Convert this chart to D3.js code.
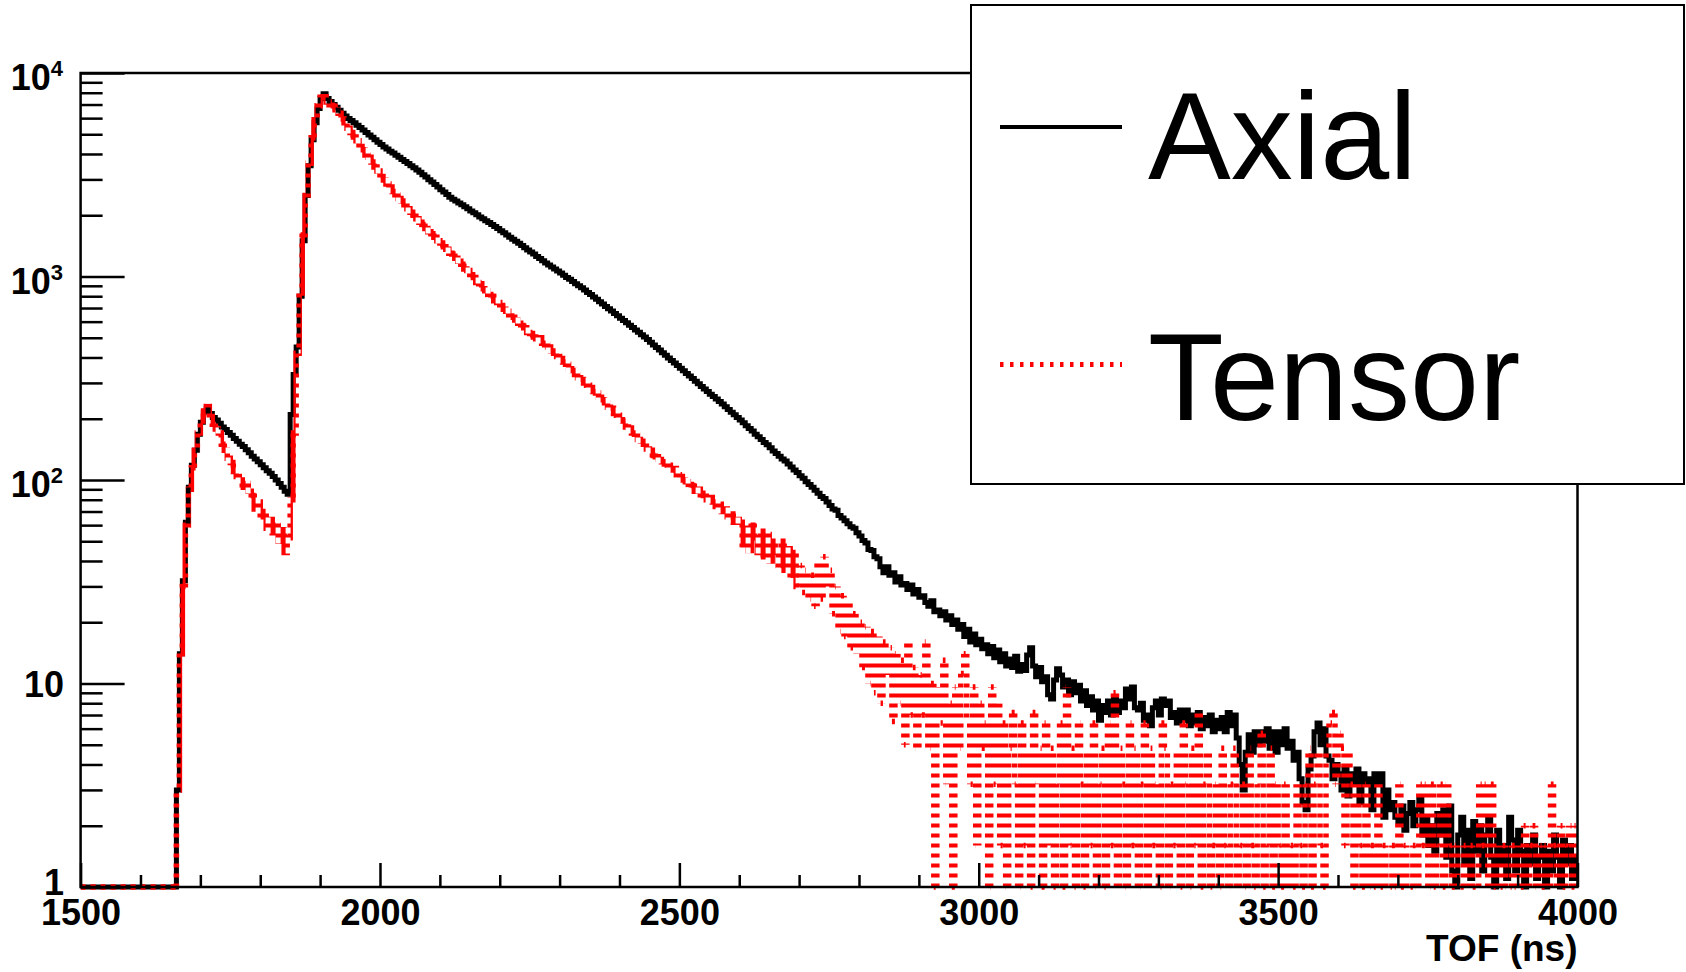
<!DOCTYPE html>
<html>
<head>
<meta charset="utf-8">
<script src="https://cdn.jsdelivr.net/npm/d3@7"></script>
<style>
  body { margin: 0; background: #fff; }
  svg { display: block; }
  text { font-family: "Liberation Sans", Arial, Helvetica, sans-serif; }
</style>
</head>
<body>
<div id="chart"></div>
<script>
// histogram binning: 5 ns bins from 1500 to 4000 ns
var binStart = 1500, binWidth = 5;

// Axial counts, one row per 100 ns
var axial = [
  0,0,0,0,0,0,0,0,0,0,0,0,0,0,0,0,0,0,0,0,
  0,0,0,0,0,0,0,0,0,0,0,0,3,14,32,62,92,118,140,168,
  192,215,225,212,203,197,190,182,177,171,166,160,155,150,146,141,136,131,127,123,
  119,115,111,108,104,100,96,92,88,85,210,330,450,800,1500,2500,3500,4700,5700,6700,
  7500,7900,7500,7250,7000,6780,6560,6350,6150,5980,5850,5690,5540,5390,5240,5100,4960,4830,4700,4570,
  4450,4330,4230,4130,4040,3940,3850,3760,3670,3590,3500,3420,3340,3250,3160,3080,2990,2910,2830,2750,
  2670,2600,2530,2450,2400,2350,2300,2250,2200,2150,2100,2060,2010,1960,1920,1880,1840,1800,1760,1720,
  1680,1640,1600,1560,1525,1490,1455,1420,1385,1350,1320,1290,1255,1225,1195,1165,1140,1115,1090,1065,
  1040,1015,990,968,945,922,900,880,858,835,815,793,772,752,733,713,695,676,658,641,
  624,608,592,576,561,546,532,518,504,490,475,461,448,435,422,410,398,387,376,365,
  354,344,334,324,315,306,297,288,280,272,264,257,250,243,236,229,222,215,209,203,
  197,191,185,179,174,168,163,158,153,149,144,139,135,131,127,124,120,116,112,109,
  105,102,98,95,92,89,86,83,81,78,75,72,71,67,65,63,61,59,58,55,
  53,50.5,49,45.5,45,42,41,37.5,35,37.5,34,35,31.5,33.5,30.5,31,29,30.5,27.5,29,
  26.5,27,25,24,25.5,22.5,23,21.5,22.5,20.5,21.5,19.5,20.5,18.5,19.5,17,18.5,16,17.5,15.5,
  16.5,14.8,15.5,14,15.2,13.4,14.6,12.8,14,12.2,13.2,12,13.6,11.5,12.4,11.6,13.8,15,12.2,10.8,
  12,10.2,10.8,8.8,8.4,10.4,11.8,11,9.6,10.4,8.8,10.2,9,9.8,8.2,9.2,7.8,8.6,7.4,8.2,
  6.6,7.8,7.2,8.2,7,8.6,7.2,8.2,7.6,9.4,8.4,9.6,7.6,7.4,8,6.6,7,6.2,7.6,8.2,
  7,8.4,7.8,8.2,6.8,7.2,6.4,7.4,6.6,7.4,6.2,7,6.4,7.2,6,6.8,6.2,7,5.8,6.6,
  6,6.8,5.8,7.2,6.2,7,5.4,4,3,4.6,5.6,4.6,5.8,5,5.8,5.2,6,4.8,5.8,4.6,
  5.8,5,6,4.8,5.2,4.2,4.6,3.4,2.6,2.4,3.8,4.4,5.8,6.4,5,6,4.4,4.2,3.4,4,
  3.6,3,3.8,2.8,3.6,3.2,3.8,2.6,3.6,3.2,3.4,2.4,3.6,3.2,3.6,2.2,3,2.4,2.6,2.2,
  2.1,2.5,1.9,2.3,2.6,2,2.4,2.7,1.8,2.2,1.6,2,1.5,2.3,1.8,2.4,1.4,2.5,1.2,0,
  1.8,2.2,1.3,1.9,1.1,2.1,1.5,2,1.2,1.8,2.2,1.4,0.9,1.9,1.3,1.6,1.1,2.2,1.7,1.2,
  1.9,1.5,0.8,1.6,1.3,1.8,1.1,1.4,1.6,0,1.5,1.2,1.8,1.4,0.9,1.7,1.3,1.6,1.1,1.4
];

// Tensor counts, one row per 100 ns
var tensor = [
  0,0,0,0,0,0,0,0,0,0,0,0,0,0,0,0,0,0,0,0,
  0,0,0,0,0,0,0,0,0,0,0,0,3,14,30,60,90,115,140,170,
  195,218,230,205,188,178,170,150,140,128,122,110,104,100,92,96,88,84,72,78,
  66,70,58,64,55,60,50,57,44,52,80,170,420,830,1600,2500,3600,4800,5900,6900,
  7600,7650,7200,6950,6900,6600,6350,5950,5700,5350,5100,4850,4650,4350,4200,3950,3850,3650,3450,3300,
  3100,2980,2850,2750,2620,2520,2420,2350,2250,2150,2070,2000,1920,1850,1800,1720,1660,1620,1560,1500,
  1460,1400,1360,1300,1290,1230,1190,1150,1090,1070,1020,990,935,920,870,850,815,800,760,745,
  720,690,675,640,630,612,590,575,560,530,525,505,495,500,470,462,450,430,420,405,
  395,380,370,352,345,330,318,312,300,292,285,272,268,255,248,240,228,225,212,208,
  198,195,182,180,170,168,158,155,150,142,140,132,130,126,123,120,118,112,114,106,
  104,100,98,95,94,88,90,84,86,80,82,78,74,76,70,72,66,68,62,64,
  62,48,58,45,60,52,44,56,42,54,40,50,44,38,50,36,46,34,44,30,
  38,28,36,26,34,24,40,26,42,30,36,22,30,18,27,17,25,15,22,14,
  20,12,19,10,18,9,17,8,16,11,15,6.5,14,8,13,5,16,7,12,4.8,
  11,7,16,4.8,10,0,9.6,6.4,13,3.2,8,0,9.6,4.8,11.2,14,6.4,3.2,9.6,1.6,
  8,4.8,6.4,0,9.6,3.2,8,1.6,6.4,0,4.8,7.2,3.2,0,6.4,1.6,4.8,0,7.2,3.2,
  4.8,0,6.4,1.6,4.8,0,3.2,6.4,0,9.6,1.6,4.8,0,6.4,3.2,0,4.8,1.6,6.4,0,
  3.2,4.8,0,6.4,1.6,9,0,4.8,3.2,0,6.4,1.6,4.8,0,3.2,6.4,0,4.8,1.6,3.2,
  0,6.4,4.8,0,3.2,1.6,4.8,0,6.4,3.2,0,4.8,1.6,7.2,0,3.2,4.8,0,1.6,3.2,
  0,4.8,1.6,0,3.2,4.8,0,1.6,3.2,0,4.8,1.6,0,3.2,5.7,0,1.6,4.8,0,3.2,
  1.6,0,3.2,0,1.6,0,3.2,1.6,0,3.2,4.8,0,3.2,4.8,1.6,0,4.8,6.4,7.2,3.2,
  5.7,4.8,1.6,4.8,3.2,0,3.2,1.6,0,3.2,0,1.6,0,3.2,0,1.6,0,0,1.6,0,
  3.2,0,1.6,0,0,1.6,0,3.2,1.6,3.2,0,3.2,0,1.6,3.2,0,3.2,1.6,0,1.6,
  0,0,1.6,0,1.6,0,0,3.2,1.6,3.2,0,3.2,0,1.6,0,1.6,0,0,1.6,0,
  1.6,0,2,0,1.6,2,0,1.6,0,1.6,0,3.2,1.6,0,2,0,1.6,2,0,2
];

var seriesNames = ["Axial", "Tensor"];
var xTicks = [1500, 2000, 2500, 3000, 3500, 4000];
var xMinor = [1600, 1700, 1800, 1900, 2100, 2200, 2300, 2400, 2600, 2700, 2800, 2900,
              3100, 3200, 3300, 3400, 3600, 3700, 3800, 3900];
var yDecades = [1, 10, 100, 1000, 10000];
var xTitle = "TOF (ns)";

var width = 1686, height = 972;
var margin = { top: 73, right: 108.5, bottom: 85, left: 80.6 };

var x = d3.scaleLinear()
    .domain([1500, 4000])
    .range([margin.left, width - margin.right]);

var y = d3.scaleLog()
    .domain([1, 10000])
    .range([height - margin.bottom, margin.top]);

// empty bins (and anything below 1) sit on the bottom of the frame
function yPos(v) { return v > 1 ? y(v) : y(1); }

var svg = d3.select("#chart").append("svg")
    .attr("width", width)
    .attr("height", height);

var defs = svg.append("defs");

// dotted line style, anchored to the page grid like the original output
function stripes(id, px, py, w, h) {
    defs.append("pattern")
        .attr("id", id)
        .attr("patternUnits", "userSpaceOnUse")
        .attr("x", px).attr("y", py)
        .attr("width", 10).attr("height", 10)
        .selectAll("rect")
        .data(w.map((d, i) => [d, h[i]]))
        .enter().append("rect")
        .attr("width", d => d[0]).attr("height", d => d[1])
        .attr("fill", "#fff");
}
stripes("dashX", x(1500), 0, [5], [10]);
stripes("dashY", 0, y(1) - 3.5, [10], [4]);
stripes("dashXY", x(1500), y(1) - 3.5, [5, 10], [10, 4]);

["X", "Y", "XY"].forEach(function (k) {
    defs.append("mask")
        .attr("id", "mask" + k)
        .attr("maskUnits", "userSpaceOnUse")
        .attr("x", 0).attr("y", 0)
        .attr("width", width).attr("height", height)
        .append("rect")
        .attr("width", width).attr("height", height)
        .attr("fill", "url(#dash" + k + ")");
});

// Axial: solid step line
var stepLine = d3.line()
    .x(d => d[0])
    .y(d => d[1])
    .curve(d3.curveStepAfter);

function stepPoints(vals, i0, i1) {
    var pts = [];
    for (var i = i0; i < i1; i++) pts.push([x(binStart + i * binWidth), yPos(vals[i])]);
    pts.push([x(binStart + i1 * binWidth), yPos(vals[i1 - 1])]);
    return pts;
}

svg.append("path")
    .attr("d", stepLine(stepPoints(axial, 0, axial.length)))
    .attr("fill", "none")
    .attr("stroke", "#000")
    .attr("stroke-width", 5)
    .attr("stroke-linejoin", "miter");

// Tensor: dotted step line
// busy part (rise, peaks, decay) keeps one path; the sparse tail is split
// into flat and vertical pieces so the dots line up as in the original
var headFrom = 32, headTo = 240;   // 1660 ns .. 2700 ns
var hPath = d3.path(), vPath = d3.path();
var prevY = null;
tensor.forEach(function (v, i) {
    var x0 = x(binStart + i * binWidth);
    var x1 = x(binStart + (i + 1) * binWidth);
    var yy = yPos(v);
    var inHead = i >= headFrom && i < headTo;
    if (prevY !== null && prevY !== yy && !(inHead && i > headFrom)) {
        vPath.moveTo(x0, prevY);
        vPath.lineTo(x0, yy);
    }
    if (!inHead) {
        hPath.moveTo(x0, yy);
        hPath.lineTo(x1, yy);
    }
    prevY = yy;
});

var red = svg.append("g")
    .attr("fill", "none")
    .attr("stroke", "#ff0000")
    .attr("stroke-width", 5.5);

red.append("path")
    .attr("d", stepLine(stepPoints(tensor, headFrom, headTo)))
    .attr("mask", "url(#maskXY)");

red.append("path")
    .attr("d", hPath.toString())
    .attr("mask", "url(#maskX)");

red.append("path")
    .attr("d", vPath.toString())
    .attr("mask", "url(#maskY)");

// frame
svg.append("rect")
    .attr("x", margin.left)
    .attr("y", margin.top)
    .attr("width", width - margin.left - margin.right)
    .attr("height", height - margin.top - margin.bottom)
    .attr("fill", "none")
    .attr("stroke", "#000")
    .attr("stroke-width", 2.5);

// x axis
svg.append("g")
    .attr("transform", `translate(0,${height - margin.bottom})`)
    .call(d3.axisBottom(x)
        .tickValues(xTicks)
        .tickSize(-24)
        .tickPadding(12)
        .tickFormat(d3.format("d")));

svg.append("g")
    .attr("transform", `translate(0,${height - margin.bottom})`)
    .call(d3.axisBottom(x)
        .tickValues(xMinor)
        .tickSize(-12)
        .tickFormat(""));

// y axis
var yMinor = [];
yDecades.slice(0, -1).forEach(d => {
    for (var k = 2; k <= 9; k++) yMinor.push(d * k);
});

svg.append("g")
    .attr("transform", `translate(${margin.left},0)`)
    .call(d3.axisLeft(y)
        .tickValues(yDecades)
        .tickSize(-44)
        .tickFormat(""));

svg.append("g")
    .attr("transform", `translate(${margin.left},0)`)
    .call(d3.axisLeft(y)
        .tickValues(yMinor)
        .tickSize(-22)
        .tickFormat(""));

svg.selectAll(".domain").remove();
svg.selectAll(".tick line")
    .attr("stroke", "#000")
    .attr("stroke-width", 2.5);
svg.selectAll(".tick text")
    .attr("fill", "#000")
    .style("font-size", "36px")
    .style("font-weight", "bold");

// y tick labels: 1, 10, 10^2 ...
var ylab = svg.append("g")
    .style("font-size", "36px")
    .style("font-weight", "bold")
    .attr("text-anchor", "end");

yDecades.forEach(function (d) {
    var p = Math.round(Math.log10(d));
    if (p < 2) {
        ylab.append("text")
            .attr("x", 64)
            .attr("y", y(d) + (p === 0 ? 8 : 13))
            .text(String(d));
    } else {
        var t = ylab.append("text")
            .attr("x", 63)
            .attr("y", y(d) + 17);
        t.append("tspan").text("10");
        t.append("tspan")
            .attr("dy", -14)
            .style("font-size", "22px")
            .text(String(p));
    }
});

// x title
svg.append("text")
    .attr("x", width - margin.right)
    .attr("y", 961)
    .attr("text-anchor", "end")
    .style("font-size", "37px")
    .style("font-weight", "bold")
    .text(xTitle);

// legend
var legend = svg.append("g");

legend.append("rect")
    .attr("x", 971)
    .attr("y", 5)
    .attr("width", 713)
    .attr("height", 479)
    .attr("fill", "#fff")
    .attr("stroke", "#000")
    .attr("stroke-width", 2);

var legendRows = [
    { name: seriesNames[0], ly: 127, ty: 178.5, color: "#000", dash: null, sw: 4 },
    { name: seriesNames[1], ly: 364.5, ty: 419.5, color: "#ff0000", dash: "3.5 6.5", sw: 5 }
];

legendRows.forEach(function (r) {
    legend.append("line")
        .attr("x1", 1000).attr("x2", 1122)
        .attr("y1", r.ly).attr("y2", r.ly)
        .attr("stroke", r.color)
        .attr("stroke-width", r.sw)
        .attr("stroke-dasharray", r.dash);
    legend.append("text")
        .attr("x", 1148)
        .attr("y", r.ty)
        .style("font-size", "124px")
        .text(r.name);
});
</script>
</body>
</html>
